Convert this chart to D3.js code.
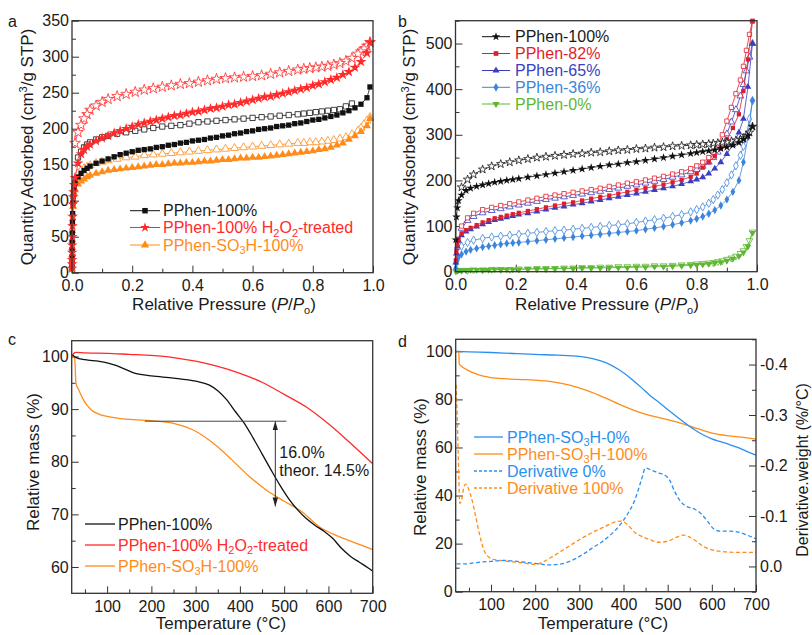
<!DOCTYPE html>
<html>
<head>
<meta charset="utf-8">
<script src="https://cdn.jsdelivr.net/npm/d3@7"></script>
<style>
  body { margin: 0; background: #fff; }
  svg text { font-family: Arial, "Liberation Sans", sans-serif; font-size: 16px; fill: #1a1a1a; }
  svg text.title { font-size: 17px; }
  svg text.title.small { font-size: 16px; }
</style>
</head>
<body>
<svg width="812" height="635"></svg>
<script>
// ---- panel a : N2 isotherms (adsorption = filled, desorption = open)
const aAdsP = [0.0001,0.0002,0.0003,0.0005,0.0007,0.001,0.0015,0.002,0.003,0.004,0.005,0.007,0.01,
  0.02,0.03,0.04,0.05,0.06,
  0.08,0.1,0.12,0.14,0.16,0.18,0.2,0.22,0.24,0.26,0.28,0.3,0.32,0.34,0.36,0.38,0.4,0.42,0.44,0.46,0.48,0.5,
  0.52,0.54,0.56,0.58,0.6,0.62,0.64,0.66,0.68,0.7,0.72,0.74,0.76,0.78,0.8,0.82,0.84,0.86,0.88,0.9,0.92,0.94,0.96,0.98,
  0.99]
const aBlackAds = [8,15,22,32,42,55,70,82,97,106,112,119,125,
  133,138,142,145,148,
  152,155,158,161,164,166,168,170,171,172,174,175,177,178,180,181,183,184,185,187,188,190,
  191,193,194,196,197,199,200,201,203,204,205,207,208,210,212,213,215,217,219,222,225,229,234,243,
  258]
const aRedAds = [6,12,18,28,38,50,65,78,95,105,112,122,132,
  152,165,171,175,178,
  183,187,190,194,197,200,203,206,208,210,212,214,216,218,219,221,223,224,226,228,229,231,
  233,234,236,238,240,242,244,245,247,249,251,253,255,257,260,262,265,268,271,275,279,285,293,305,
  320]
const aOrangeAds = [5,10,16,25,35,45,58,68,82,92,100,110,115,
  123,127,130,133,135,
  138,140,142,143,144,145,146,147,148,149,150,150,151,152,152,153,153,154,155,155,156,157,
  157,158,159,159,160,160,161,162,163,164,165,166,167,168,169,171,172,174,177,180,185,190,196,204,
  214]
const aDesP = [0.99,0.98,0.97,0.96,0.95,
  0.93,0.91,0.89,0.87,0.85,0.83,0.81,0.79,0.77,0.75,
  0.72,0.69,0.66,0.63,0.6,0.57,0.54,0.51,0.48,0.45,0.42,0.39,0.36,0.33,0.3,0.27,0.24,0.21,0.18,0.15,0.12,
  0.1,0.08,0.06,0.05,0.04,0.03,0.02,0.01]
const aBlackDes = [null,null,null,null,null,
  235,231,227,226,225,224,223,222,221,220,
  219,218,217,216,215,214,213,212,211,210,209,207,205,204,203,201,199,197,195,193,190,
  188,185,181,178,174,168,160,null]
const aRedDes = [320,315,311,307,304,
  298,294,291,289,287,286,285,284,283,282,
  280,278,276,274,273,272,271,270,269,267,265,263,262,260,258,256,254,251,248,245,241,
  237,232,226,220,214,205,195,180]
const aOrangeDes = [216,211,206,201,197,
  192,188,186,184,183,182,181,181,180,180,
  179,178,177,176,175,174,173,172,171,170,169,168,167,166,165,164,163,161,160,158,156,
  154,152,149,147,145,142,138,null]
const aXTicks = [0,0.2,0.4,0.6,0.8,1]
const aYTicks = [0,50,100,150,200,250,300,350]

// ---- panel b : isotherms for the PPhen-x% series
const bAdsP = [0.001,0.003,0.006,0.01,0.02,0.035,0.05,0.07,0.09,0.11,0.13,0.15,0.17,0.19,0.21,
  0.24,0.27,0.3,0.33,0.36,0.39,0.42,0.45,0.48,0.51,0.54,0.57,0.6,0.63,0.66,0.69,0.72,0.75,0.78,
  0.8,0.82,0.84,0.86,0.88,0.9,0.92,0.94,0.955,0.97,0.985]
const b100Ads = [70,120,140,156,168,178,183,187,190,193,196,198,200,202,204,207,210,213,216,219,222,225,
  228,231,234,236,239,241,244,247,250,253,256,259,261,263,265,267,270,273,277,283,290,298,318]
const b82Ads = [25,45,60,72,84,91,96,102,108,113,117,120,123,126,129,133,137,141,145,149,152,156,160,164,
  167,171,175,179,183,187,191,196,201,208,215,228,240,253,270,290,315,345,396,465,549]
const b65Ads = [20,40,55,68,80,88,93,99,104,109,113,116,119,122,125,128,132,136,140,143,147,150,154,157,
  161,164,168,171,175,179,183,187,192,198,202,207,215,226,240,258,278,305,335,405,500]
const b36Ads = [8,18,25,32,38,44,48,51,54,56,58,60,62,63,64,66,68,70,72,74,76,78,80,82,84,86,88,90,93,96,
  99,103,107,112,116,121,127,135,145,158,175,200,240,295,375]
const b0Ads = [1,2,2,3,3,3,4,4,4,4,5,5,5,5,5,6,6,6,7,7,7,8,8,8,9,9,9,10,10,11,11,12,13,14,15,16,17,19,21,
  24,28,34,42,55,85]
const bDesP = [0.985,0.975,0.965,0.955,0.945,0.93,0.915,0.9,0.885,0.87,0.855,0.84,0.82,0.8,0.78,0.75,0.72,
  0.69,0.66,0.63,0.6,0.57,0.54,0.51,0.48,0.45,0.42,0.39,0.36,0.33,0.3,0.27,0.24,0.21,0.18,0.15,0.12,0.09,
  0.06,0.04,0.02]
const b100Des = [318,305,298,293,290,288,286,284,283,282,281,280,279,278,277,276,275,273,272,270,269,267,
  266,264,262,261,259,258,256,254,252,250,247,244,240,236,231,224,213,202,185]
const b82Des = [549,520,485,450,420,390,360,330,300,278,262,250,240,232,226,219,214,209,205,201,197,194,
  190,187,183,180,177,174,171,168,165,161,157,153,149,145,141,136,128,118,100]
const b65Des = [500,470,440,410,385,355,328,302,278,262,250,240,231,224,219,212,207,202,198,194,190,187,
  183,180,176,173,170,167,164,161,158,154,150,146,142,138,134,129,121,112,95]
const b36Des = [375,335,300,275,255,232,212,195,180,168,158,150,142,136,131,125,121,117,114,111,108,105,
  103,101,99,97,95,93,91,90,88,86,84,82,80,78,76,73,69,64,56]
const b0Des = [87,68,55,46,40,34,30,27,24,22,20,19,18,17,16,15,14,13,13,12,12,11,11,10,10,9,9,8,8,7,7,7,
  6,6,5,5,5,4,4,3,3]
const bYTicks = [0,100,200,300,400,500]

// ---- panel c : TGA
const cBlackT = [22,30,50,80,100,120,140,160,175,200,250,300,330,350,370,390,410,430,450,470,490,510,530,
  550,570,590,610,630,650,670,690,700]
const cBlack = [100.3,99.8,99.4,99.1,98.8,98.3,97.6,96.9,96.6,96.3,95.9,95.3,94.6,93.5,91.8,89.5,87.3,84.5,
  81.5,78.5,75.6,73.0,70.9,69.2,67.9,66.8,65.4,63.5,62.0,60.9,59.8,59.2]
const cRedT = [20,25,30,50,100,150,200,250,300,350,400,450,500,550,600,650,700]
const cRed = [100,100.6,100.8,100.7,100.6,100.4,100.2,99.8,99.1,98.1,96.8,95.1,92.8,90.4,87.2,83.5,79.6]
const cOrangeT = [20,26,28,29,30,35,45,55,65,80,100,130,160,200,250,300,340,380,420,460,500,540,580,620,660,700]
const cOrange = [100,99.8,98,95.5,94.8,93.8,92.0,90.7,89.8,89.1,88.6,88.2,88,87.8,87.3,85.8,83.5,80.5,77.3,
  74.6,72.5,70.5,67.6,65.9,64.6,63.3]
const cNoteT = [185, 505], cNoteLevel = 87.7
const cArrowT = 480, cArrowY = [87.7, 71.5]
const cXTicks = [100,200,300,400,500,600,700]
const cYTicks = [60,70,80,90,100]

// ---- panel d : TGA + derivative
const dBlueT = [22,50,100,150,200,250,300,330,360,390,420,440,460,480,500,520,540,560,580,600,620,640,660,680,700]
const dBlue = [100,99.8,99.5,99.1,98.7,98.4,97.9,97.0,95.3,92.3,88.2,85.0,81.6,78.8,75.8,72.9,70.1,67.5,65.3,
  63.6,62.4,61.2,59.9,58.3,56.8]
const dOrangeT = [22,27,28,35,45,60,80,100,130,160,200,240,280,320,360,400,440,480,520,560,600,640,680,700]
const dOrange = [100,99.8,94.8,93.5,92.4,91,89.8,89.1,88.6,88.3,88,87.3,85.8,83.5,80.5,77.2,74.4,72.4,70.6,
  68.3,66,64.8,64,63.5]
const dDerBlueT = [22,40,60,80,100,130,160,200,230,260,290,310,330,350,370,390,410,425,440,450,465,480,495,
  505,515,530,545,560,575,590,605,620,640,660,680,700]
const dDerBlue = [-0.005,-0.005,-0.007,-0.009,-0.01,-0.012,-0.01,-0.006,-0.003,-0.005,-0.015,-0.025,-0.037,
  -0.048,-0.062,-0.08,-0.105,-0.13,-0.17,-0.195,-0.19,-0.185,-0.18,-0.17,-0.15,-0.128,-0.118,-0.114,-0.105,
  -0.09,-0.074,-0.07,-0.07,-0.068,-0.062,-0.055]
const dDerOrangeT = [21,24,27,29,33,38,42,47,55,65,75,85,100,120,150,180,200,220,240,260,280,300,320,340,
  360,380,395,410,425,440,460,480,500,520,535,550,565,580,600,620,650,700]
const dDerOrange = [-0.36,-0.28,-0.18,-0.125,-0.13,-0.155,-0.163,-0.158,-0.138,-0.1,-0.06,-0.03,-0.016,
  -0.012,-0.009,-0.006,-0.004,-0.01,-0.02,-0.031,-0.042,-0.053,-0.063,-0.072,-0.08,-0.088,-0.09,-0.082,
  -0.068,-0.06,-0.053,-0.048,-0.05,-0.058,-0.062,-0.058,-0.05,-0.04,-0.033,-0.03,-0.028,-0.028]
const dYTicks = [0,20,40,60,80,100]
const dY2Ticks = [0,-0.1,-0.2,-0.3,-0.4]

const black = '#111', red = '#ff2a2a', orange = '#ff8c1a'
const bRed = '#e01e2b', bBlue = '#3b3fbf', bLight = '#3d85dc', bGreen = '#5db732'
const dBlue_c = '#2b8ff2'

const svg = d3.select('svg')

const shapeType = {square: d3.symbolSquare, star: d3.symbolStar, up: d3.symbolTriangle,
  down: d3.symbolTriangle, diamond: d3.symbolDiamond}
const sym = (shape, size) => d3.symbol(shapeType[shape], size)()

const defs = svg.append('defs')
defs.append('marker').attr('id', 'head')
  .attr('viewBox', '0 0 10 10').attr('refX', 10).attr('refY', 5)
  .attr('markerWidth', 9).attr('markerHeight', 9).attr('orient', 'auto-start-reverse')
  .append('path').attr('d', 'M0,2L10,5L0,8z').attr('fill', '#222')

// text with _{sub}, ^{sup} and *italic* pieces
function rich(text, str){
  let shift = 0
  str.split(/(_\{[^}]*\}|\^\{[^}]*\}|\*[^*]*\*)/).filter(s => s).forEach(s => {
    const t = text.append('tspan')
    let d = 0
    if(s[0] == '_' || s[0] == '^'){
      d = s[0] == '_' ? 3.5 : -6
      t.style('font-size', '11px').text(s.slice(2, -1))
    } else if(s[0] == '*'){
      t.style('font-style', 'italic').text(s.slice(1, -1))
    } else t.text(s)
    if(d - shift) t.attr('dy', d - shift)
    shift = d
  })
  return text
}

function ticks(g, axis, pos, vals, size, fmt, pad){
  g.append('g').attr('transform', pos).attr('color', '#333')
    .call(axis.tickValues(vals).tickSize(size).tickPadding(pad || 0).tickFormat(fmt || (() => '')))
    .call(s => s.select('.domain').remove())
}

function frame(g, x, y){
  const [x0, x1] = x.range(), [y0, y1] = y.range()
  g.append('rect').attr('x', x0).attr('y', y1).attr('width', x1 - x0).attr('height', y0 - y1)
    .attr('fill', 'none').attr('stroke', '#333').attr('stroke-width', 1.3)
}

function series(g, x, y, xs, ys, color, shape, size, open){
  const pts = xs.map((v, i) => [v, ys[i]]).filter(d => d[1] != null)
  g.append('path').datum(pts)
    .attr('fill', 'none').attr('stroke', color).attr('stroke-width', 0.8)
    .attr('d', d3.line().x(d => x(d[0])).y(d => y(d[1])))
  g.append('g').selectAll('path').data(pts).join('path')
    .attr('d', sym(shape, size))
    .attr('transform', d => `translate(${x(d[0])},${y(d[1])})` + (shape == 'down' ? ' rotate(180)' : ''))
    .attr('fill', open ? '#fff' : color)
    .attr('stroke', color).attr('stroke-width', open ? 0.8 : 0)
}

function curve(g, x, y, xs, ys, color, dash){
  g.append('path').datum(xs.map((v, i) => [v, ys[i]]))
    .attr('fill', 'none').attr('stroke', color).attr('stroke-width', 1.3)
    .attr('stroke-dasharray', dash || null)
    .attr('d', d3.line().curve(d3.curveMonotoneX).x(d => x(d[0])).y(d => y(d[1])))
}

function legend(g, items, x0, x1, tx, ys, size){
  items.forEach((it, i) => {
    const row = g.append('g').attr('transform', `translate(0,${ys[i]})`)
    row.append('line').attr('x1', x0).attr('x2', x1)
      .attr('stroke', it.color).attr('stroke-width', it.w || 1).attr('stroke-dasharray', it.dash || null)
    if(it.shape) row.append('path').attr('d', sym(it.shape, size))
      .attr('transform', `translate(${(x0 + x1) / 2},0)` + (it.shape == 'down' ? ' rotate(180)' : ''))
      .attr('fill', it.color)
    rich(row.append('text').attr('x', tx).attr('y', 5.5).style('fill', it.text || it.color), it.label)
  })
}

function title(g, x, y, str, rot){
  return rich(g.append('text').attr('class', 'title').attr('text-anchor', 'middle')
    .attr('dy', rot ? '0.35em' : null)
    .attr('transform', `translate(${x},${y})` + (rot ? ` rotate(${rot})` : '')), str)
}

const f1 = d => d.toFixed(1)

// ---------- a
const ax = d3.scaleLinear().domain([0, 1]).range([72, 373])
const ay = d3.scaleLinear().domain([0, 350]).range([272.7, 20.7])
const ga = svg.append('g')
ticks(ga, d3.axisBottom(ax), `translate(0,${ay(0)})`, [0.1,0.3,0.5,0.7,0.9], -4)
ticks(ga, d3.axisBottom(ax), `translate(0,${ay(0)})`, aXTicks, -7, f1, 7)
ticks(ga, d3.axisLeft(ay), `translate(${ax(0)},0)`, d3.range(25, 350, 50), -4)
ticks(ga, d3.axisLeft(ay), `translate(${ax(0)},0)`, aYTicks, -7, d3.format('d'), 3)
series(ga, ax, ay, aDesP, aOrangeDes, orange, 'up', 28, true)
series(ga, ax, ay, aAdsP, aOrangeAds, orange, 'up', 28)
series(ga, ax, ay, aDesP, aBlackDes, black, 'square', 28, true)
series(ga, ax, ay, aAdsP, aBlackAds, black, 'square', 28)
series(ga, ax, ay, aDesP, aRedDes, red, 'star', 36, true)
series(ga, ax, ay, aAdsP, aRedAds, red, 'star', 36)
frame(ga, ax, ay)
legend(ga, [
  {label: 'PPhen-100%', color: black, shape: 'square', text: '#1a1a1a'},
  {label: 'PPhen-100% H_{2}O_{2}-treated', color: red, shape: 'star'},
  {label: 'PPhen-SO_{3}H-100%', color: orange, shape: 'up'}
], 130, 160, 163, [210.7, 227.5, 245], 30)
title(ga, 27, 147, 'Quantity Adsorbed (cm^{3}/g STP)', -90)
title(ga, 224, 310, 'Relative Pressure (*P*/*P*_{o})')
ga.append('text').attr('x', 8).attr('y', 27).text('a')

// ---------- b
const bx = d3.scaleLinear().domain([0, 1]).range([455.5, 757])
const by = d3.scaleLinear().domain([0, 550]).range([271.7, 20.7])
const gb = svg.append('g')
ticks(gb, d3.axisBottom(bx), `translate(0,${by(0)})`, [0.1,0.3,0.5,0.7,0.9], -4)
ticks(gb, d3.axisBottom(bx), `translate(0,${by(0)})`, aXTicks, -7, f1, 7)
ticks(gb, d3.axisLeft(by), `translate(${bx(0)},0)`, d3.range(50, 551, 100), -4)
ticks(gb, d3.axisLeft(by), `translate(${bx(0)},0)`, bYTicks, -7, d3.format('d'), 3)
series(gb, bx, by, bDesP, b0Des, bGreen, 'down', 20, true)
series(gb, bx, by, bAdsP, b0Ads, bGreen, 'down', 20)
series(gb, bx, by, bDesP, b36Des, bLight, 'diamond', 20, true)
series(gb, bx, by, bAdsP, b36Ads, bLight, 'diamond', 20)
series(gb, bx, by, bDesP, b65Des, bBlue, 'up', 20, true)
series(gb, bx, by, bAdsP, b65Ads, bBlue, 'up', 20)
series(gb, bx, by, bDesP, b82Des, bRed, 'square', 18, true)
series(gb, bx, by, bAdsP, b82Ads, bRed, 'square', 18)
series(gb, bx, by, bDesP, b100Des, black, 'star', 22, true)
series(gb, bx, by, bAdsP, b100Ads, black, 'star', 22)
frame(gb, bx, by)
legend(gb, [
  {label: 'PPhen-100%', color: black, shape: 'star', text: '#1a1a1a'},
  {label: 'PPhen-82%', color: bRed, shape: 'square'},
  {label: 'PPhen-65%', color: bBlue, shape: 'up'},
  {label: 'PPhen-36%', color: bLight, shape: 'diamond'},
  {label: 'PPhen-0%', color: bGreen, shape: 'down'}
], 482, 510, 515, [36.7, 53.5, 70.5, 87.3, 104], 22)
title(gb, 409, 147, 'Quantity Adsorbed (cm^{3}/g STP)', -90)
title(gb, 607, 310, 'Relative Pressure (*P*/*P*_{o})')
gb.append('text').attr('x', 398).attr('y', 27).text('b')

// ---------- c
const cx = d3.scaleLinear().domain([20, 700]).range([71.7, 372.7])
const cy = d3.scaleLinear().domain([55, 103]).range([593.3, 340.7])
const gc = svg.append('g')
ticks(gc, d3.axisBottom(cx), `translate(0,${cy(55)})`, d3.range(50, 700, 100), -4)
ticks(gc, d3.axisBottom(cx), `translate(0,${cy(55)})`, cXTicks, -7, d3.format('d'), 7)
ticks(gc, d3.axisLeft(cy), `translate(${cx(20)},0)`, [65, 75, 85, 95], -4)
ticks(gc, d3.axisLeft(cy), `translate(${cx(20)},0)`, cYTicks, -7, d3.format('d'), 3)
curve(gc, cx, cy, cRedT, cRed, red)
curve(gc, cx, cy, cOrangeT, cOrange, orange)
curve(gc, cx, cy, cBlackT, cBlack, black)
gc.append('line').attr('x1', cx(cNoteT[0])).attr('x2', cx(cNoteT[1]))
  .attr('y1', cy(cNoteLevel)).attr('y2', cy(cNoteLevel)).attr('stroke', '#444').attr('stroke-width', 1)
gc.append('line').attr('x1', cx(cArrowT)).attr('x2', cx(cArrowT))
  .attr('y1', cy(cArrowY[0])).attr('y2', cy(cArrowY[1])).attr('stroke', '#333').attr('stroke-width', 1)
  .attr('marker-start', 'url(#head)').attr('marker-end', 'url(#head)')
gc.append('text').attr('x', cx(cArrowT) + 4).attr('y', 458).text('16.0%')
gc.append('text').attr('x', cx(cArrowT) + 4).attr('y', 476).text('theor. 14.5%')
frame(gc, cx, cy)
legend(gc, [
  {label: 'PPhen-100%', color: black, text: '#1a1a1a', w: 1.3},
  {label: 'PPhen-100% H_{2}O_{2}-treated', color: red, w: 1.3},
  {label: 'PPhen-SO_{3}H-100%', color: orange, w: 1.3}
], 85, 115, 118, [524, 545, 566])
title(gc, 33, 462, 'Relative mass (%)', -90)
title(gc, 221, 629, 'Temperature (°C)')
gc.append('text').attr('x', 8).attr('y', 345).text('c')

// ---------- d
const dx = d3.scaleLinear().domain([20, 700]).range([455.7, 756])
const dy = d3.scaleLinear().domain([0, 105]).range([591.7, 339.3])
const dy2 = d3.scaleLinear().domain([0.05, -0.45]).range([591.7, 339.3])
const gd = svg.append('g')
ticks(gd, d3.axisBottom(dx), `translate(0,${dy(0)})`, d3.range(50, 700, 100), -4)
ticks(gd, d3.axisBottom(dx), `translate(0,${dy(0)})`, cXTicks, -7, d3.format('d'), 7)
ticks(gd, d3.axisLeft(dy), `translate(${dx(20)},0)`, [10, 30, 50, 70, 90], -4)
ticks(gd, d3.axisLeft(dy), `translate(${dx(20)},0)`, dYTicks, -7, d3.format('d'), 3)
ticks(gd, d3.axisRight(dy2), `translate(${dx(700)},0)`, [0.05, -0.05, -0.15, -0.25, -0.35, -0.45], -4)
ticks(gd, d3.axisRight(dy2), `translate(${dx(700)},0)`, dY2Ticks, -7, f1, 4)
curve(gd, dx, dy2, dDerOrangeT, dDerOrange, orange, '4,2.5')
curve(gd, dx, dy2, dDerBlueT, dDerBlue, dBlue_c, '4,2.5')
curve(gd, dx, dy, dOrangeT, dOrange, orange)
curve(gd, dx, dy, dBlueT, dBlue, dBlue_c)
frame(gd, dx, dy)
legend(gd, [
  {label: 'PPhen-SO_{3}H-0%', color: dBlue_c, w: 1.3},
  {label: 'PPhen-SO_{3}H-100%', color: orange, w: 1.3},
  {label: 'Derivative 0%', color: dBlue_c, w: 1.3, dash: '3,2'},
  {label: 'Derivative 100%', color: orange, w: 1.3, dash: '3,2'}
], 474, 503, 507, [437, 454, 471, 488])
title(gd, 420, 467, 'Relative mass (%)', -90)
title(gd, 802, 470, 'Derivative.weight (%/°C)', -90).classed('small', true)
title(gd, 603, 629, 'Temperature (°C)')
gd.append('text').attr('x', 398).attr('y', 347).text('d')
</script>
</body>
</html>
